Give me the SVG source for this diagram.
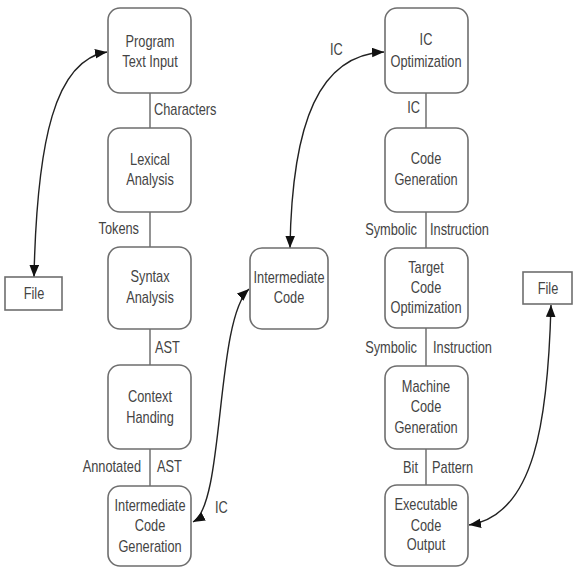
<svg xmlns="http://www.w3.org/2000/svg" width="575" height="571" viewBox="0 0 575 571">
<defs>
<style>
.box{fill:#fff;stroke:#6e6e6e;stroke-width:1.6}
.file{fill:#fff;stroke:#6e6e6e;stroke-width:1.6}
.t{font-family:"Liberation Sans",Arial,sans-serif;font-size:16px;fill:#444;text-anchor:middle}
.s{text-anchor:start}
.e{text-anchor:end}
.ln{stroke:#666;stroke-width:1.4;fill:none}
.cv{stroke:#222;stroke-width:1.4;fill:none;marker-start:url(#ah);marker-end:url(#ah)}
</style>
<marker id="ah" viewBox="0 0 10 8" refX="10" refY="4" markerWidth="12" markerHeight="10" markerUnits="userSpaceOnUse" orient="auto-start-reverse">
<path d="M0,0 L10,4 L0,8 Z" fill="#111"/>
</marker>
</defs>
<rect width="575" height="571" fill="#fff"/>
<g id="connectors">
<line class="ln" x1="150" y1="93" x2="150" y2="128"/>
<line class="ln" x1="150" y1="212" x2="150" y2="247"/>
<line class="ln" x1="150" y1="329" x2="150" y2="365"/>
<line class="ln" x1="150" y1="449" x2="150" y2="486"/>
<line class="ln" x1="426" y1="93" x2="426" y2="128"/>
<line class="ln" x1="426" y1="212" x2="426" y2="248"/>
<line class="ln" x1="426" y1="328" x2="426" y2="366"/>
<line class="ln" x1="426" y1="449" x2="426" y2="485"/>
<path class="cv" d="M34,277 C37,140 55,60 107,52"/>
<path class="cv" d="M290,248 C292,120 320,55 384,52"/>
<path class="cv" d="M193,522 C225,505 215,320 249,289"/>
<path class="cv" d="M469,525 C535,515 548,420 551,305"/>
<text class="t s" transform="translate(154,115) scale(0.8,1)">Characters</text>
<text class="t e" transform="translate(139,234) scale(0.8,1)">Tokens</text>
<text class="t s" transform="translate(155,353) scale(0.8,1)">AST</text>
<text class="t e" transform="translate(141,472) scale(0.8,1)">Annotated</text>
<text class="t s" transform="translate(157,472) scale(0.8,1)">AST</text>
<text class="t s" transform="translate(215,513) scale(0.8,1)">IC</text>
<text class="t s" transform="translate(330,55) scale(0.8,1)">IC</text>
<text class="t e" transform="translate(420,113) scale(0.8,1)">IC</text>
<text class="t e" transform="translate(417,235) scale(0.8,1)">Symbolic</text>
<text class="t s" transform="translate(430,235) scale(0.8,1)">Instruction</text>
<text class="t e" transform="translate(417,353) scale(0.8,1)">Symbolic</text>
<text class="t s" transform="translate(433,353) scale(0.8,1)">Instruction</text>
<text class="t e" transform="translate(418,473) scale(0.8,1)">Bit</text>
<text class="t s" transform="translate(432,473) scale(0.8,1)">Pattern</text>
</g>
<g id="program-text-input">
<rect class="box" x="108" y="8" width="83" height="85" rx="12"/>
<text class="t" transform="translate(150,47) scale(0.8,1)">Program</text>
<text class="t" transform="translate(150,67) scale(0.8,1)">Text Input</text>
</g>
<g id="lexical-analysis">
<rect class="box" x="108" y="128" width="83" height="84" rx="12"/>
<text class="t" transform="translate(150,165) scale(0.8,1)">Lexical</text>
<text class="t" transform="translate(150,185) scale(0.8,1)">Analysis</text>
</g>
<g id="syntax-analysis">
<rect class="box" x="108" y="247" width="83" height="82" rx="12"/>
<text class="t" transform="translate(150,282) scale(0.8,1)">Syntax</text>
<text class="t" transform="translate(150,303) scale(0.8,1)">Analysis</text>
</g>
<g id="context-handling">
<rect class="box" x="108" y="365" width="83" height="84" rx="12"/>
<text class="t" transform="translate(150,402) scale(0.8,1)">Context</text>
<text class="t" transform="translate(150,423) scale(0.8,1)">Handing</text>
</g>
<g id="intermediate-code-generation">
<rect class="box" x="108" y="486" width="83" height="80" rx="12"/>
<text class="t" transform="translate(150,511) scale(0.8,1)">Intermediate</text>
<text class="t" transform="translate(150,531) scale(0.8,1)">Code</text>
<text class="t" transform="translate(150,552) scale(0.8,1)">Generation</text>
</g>
<g id="file-left">
<rect class="file" x="5" y="277" width="57" height="33"/>
<text class="t" transform="translate(34,299) scale(0.8,1)">File</text>
</g>
<g id="intermediate-code">
<rect class="box" x="250" y="248" width="78" height="81" rx="12"/>
<text class="t" transform="translate(289,283) scale(0.8,1)">Intermediate</text>
<text class="t" transform="translate(289,303) scale(0.8,1)">Code</text>
</g>
<g id="ic-optimization">
<rect class="box" x="385" y="8" width="83" height="85" rx="12"/>
<text class="t" transform="translate(426,45) scale(0.8,1)">IC</text>
<text class="t" transform="translate(426,67) scale(0.8,1)">Optimization</text>
</g>
<g id="code-generation">
<rect class="box" x="385" y="128" width="83" height="84" rx="12"/>
<text class="t" transform="translate(426,164) scale(0.8,1)">Code</text>
<text class="t" transform="translate(426,185) scale(0.8,1)">Generation</text>
</g>
<g id="target-code-optimization">
<rect class="box" x="385" y="248" width="83" height="80" rx="12"/>
<text class="t" transform="translate(426,273) scale(0.8,1)">Target</text>
<text class="t" transform="translate(426,293) scale(0.8,1)">Code</text>
<text class="t" transform="translate(426,313) scale(0.8,1)">Optimization</text>
</g>
<g id="machine-code-generation">
<rect class="box" x="385" y="366" width="83" height="83" rx="12"/>
<text class="t" transform="translate(426,392) scale(0.8,1)">Machine</text>
<text class="t" transform="translate(426,412) scale(0.8,1)">Code</text>
<text class="t" transform="translate(426,433) scale(0.8,1)">Generation</text>
</g>
<g id="executable-code-output">
<rect class="box" x="385" y="485" width="83" height="81" rx="12"/>
<text class="t" transform="translate(426,510) scale(0.8,1)">Executable</text>
<text class="t" transform="translate(426,531) scale(0.8,1)">Code</text>
<text class="t" transform="translate(426,550) scale(0.8,1)">Output</text>
</g>
<g id="file-right">
<rect class="file" x="523" y="272" width="49" height="32"/>
<text class="t" transform="translate(548,294) scale(0.8,1)">File</text>
</g>
</svg>
